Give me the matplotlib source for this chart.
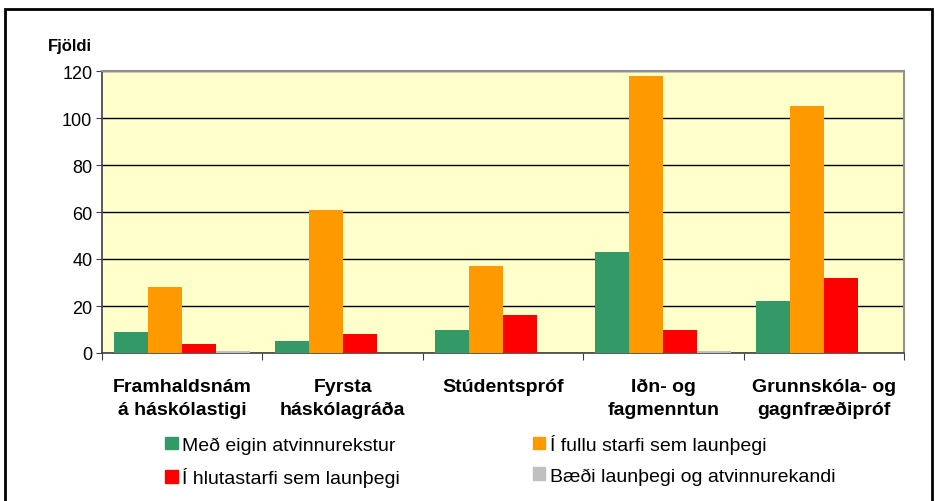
import matplotlib
matplotlib.use("Agg")
import matplotlib.pyplot as plt
import numpy as np
from matplotlib.patches import Rectangle, Patch

plt.rcParams['font.family'] = ['Liberation Sans', 'DejaVu Sans']

categories = ["Framhaldsnám\ná háskólastigi", "Fyrsta\nháskólagráða", "Stúdentspróf",
              "Iðn- og\nfagmenntun", "Grunnskóla- og\ngagnfræðipróf"]
series_names = ["Með eigin atvinnurekstur", "Í fullu starfi sem launþegi",
                "Í hlutastarfi sem launþegi", "Bæði launþegi og atvinnurekandi"]
eigin = [9, 5, 10, 43, 22]
fullu = [28, 61, 37, 118, 105]
hluta = [4, 8, 16, 10, 32]
baedi = [1, 0, 0, 1, 0]
yticks = [0, 20, 40, 60, 80, 100, 120]
colors = ["#339966", "#FF9900", "#FF0000", "#C0C0C0"]

W, H = 935, 502
fig = plt.figure(figsize=(W / 100, H / 100), dpi=100)
fig.patches.append(Rectangle((5 / W, -0.05), (927) / W, 1 - 10 / H + 0.05,
                             transform=fig.transFigure, fill=False,
                             edgecolor="black", linewidth=2))

ax = fig.add_axes([102 / W, 1 - 354 / H, (904 - 102) / W, (354 - 72) / H])
ax.set_facecolor("#FFFFCC")

x = np.arange(len(categories))
bw = 0.212
data = [eigin, fullu, hluta, baedi]
offsets = (np.arange(4) - 1.5) * bw
for vals, off, c in zip(data, offsets, colors):
    ax.bar(x + off, vals, width=bw, color=c, zorder=3, linewidth=0)

ax.set_xlim(-0.5, len(categories) - 0.5)
ax.set_ylim(0, 120)
ax.set_yticks(yticks)
ax.set_yticklabels([str(v) for v in yticks], fontsize=13)
ax.yaxis.grid(True, color="black", linewidth=1.0, zorder=1)
ax.set_axisbelow(True)

ax.set_xticks(np.arange(len(categories) + 1) - 0.5)
ax.set_xticklabels([])
ax.set_xticks(x, minor=True)
ax.set_xticklabels(categories, minor=True, fontsize=14, fontweight="bold",
                   linespacing=1.45)
ax.tick_params(axis="x", which="minor", length=0, pad=18)
ax.tick_params(axis="x", which="major", length=5, color="#404040")
ax.tick_params(axis="y", length=4, color="#404040", pad=3)

for s in ["top", "right"]:
    ax.spines[s].set_color("#909090")
    ax.spines[s].set_linewidth(1.5)
for s in ["left", "bottom"]:
    ax.spines[s].set_color("#404040")
    ax.spines[s].set_linewidth(1.2)

fig.text(48 / W, 1 - 47 / H, "Fjöldi", fontsize=12, fontweight="bold",
         ha="left", va="center")

handles = [Patch(color=colors[0]), Patch(color=colors[2]),
           Patch(color=colors[1]), Patch(color=colors[3])]
labels = [series_names[0], series_names[2], series_names[1], series_names[3]]
fig.legend(handles, labels, ncol=2, loc="upper left",
           bbox_to_anchor=(165 / W, 1 - 435 / H), frameon=False, fontsize=14,
           handlelength=0.65, handleheight=0.6, handletextpad=0.25,
           columnspacing=6.8, labelspacing=0.68, borderaxespad=0, borderpad=0)

fig.savefig("out.png", dpi=100)
